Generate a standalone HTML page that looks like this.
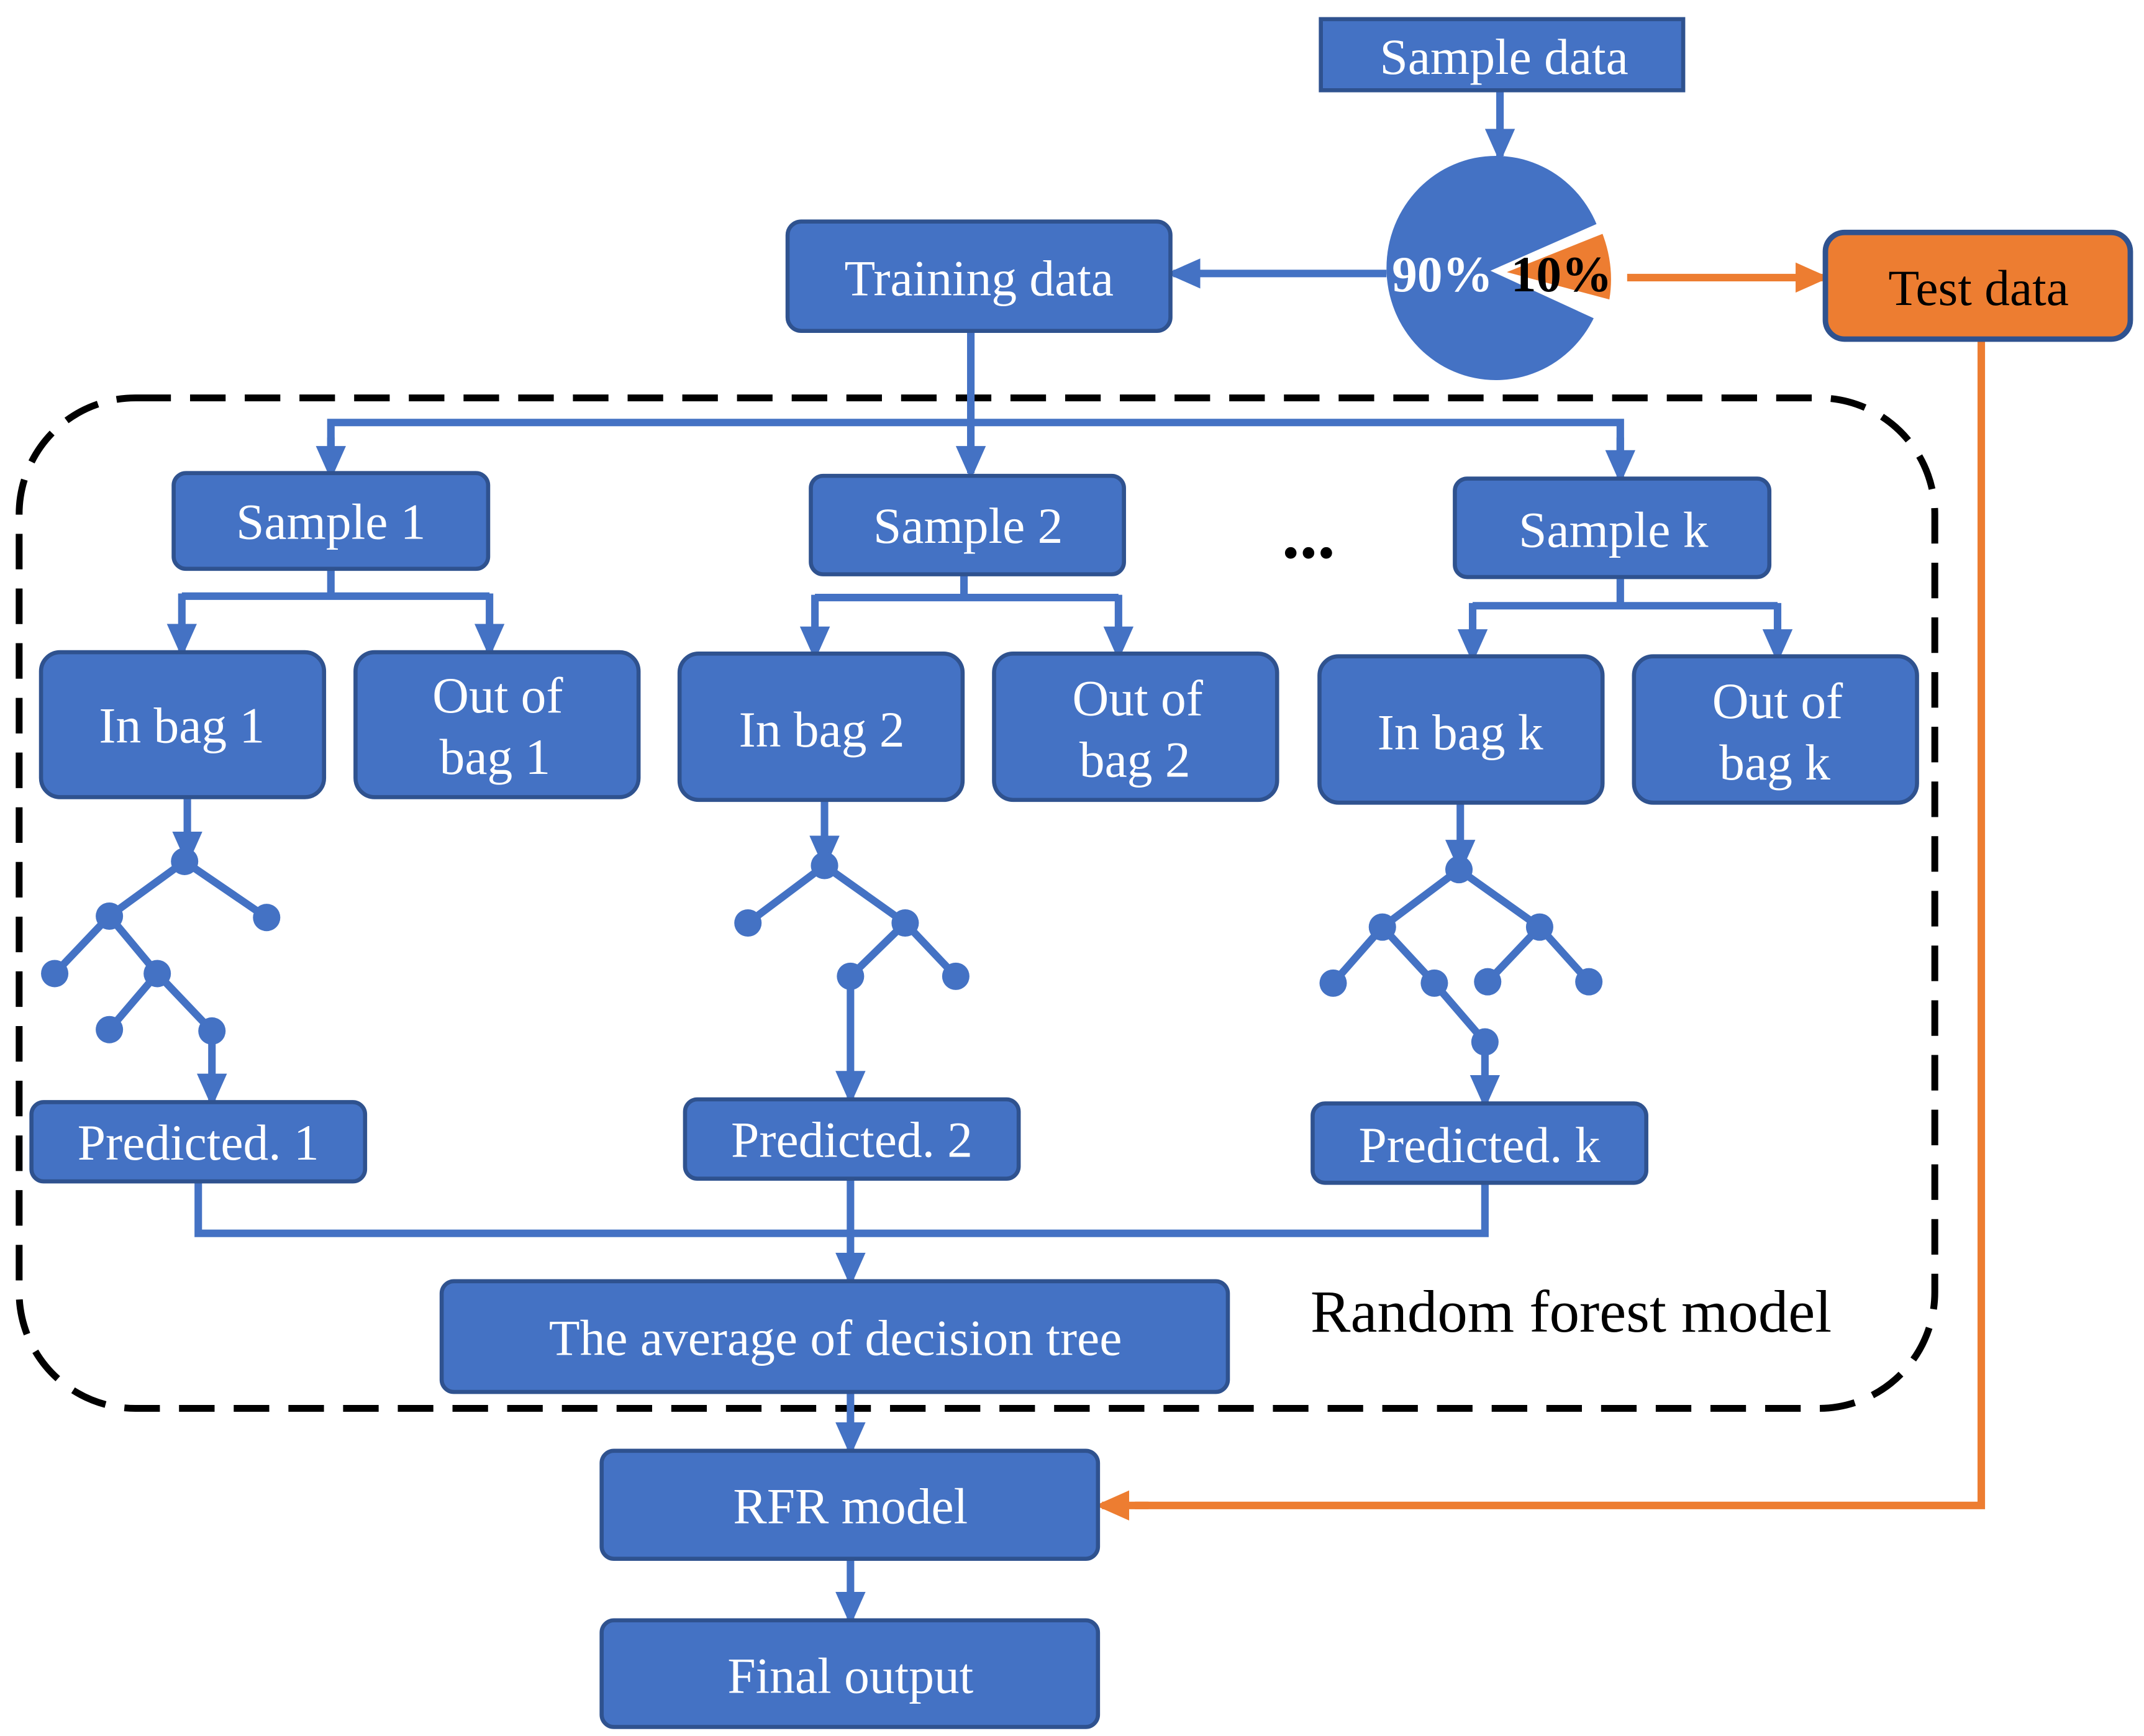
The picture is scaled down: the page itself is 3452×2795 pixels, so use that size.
<!DOCTYPE html>
<html><head><meta charset="utf-8"><style>
html,body{margin:0;padding:0;background:#fff;}
svg{display:block;}
text{font-family:"Liberation Serif",serif;}
</style></head><body>
<svg width="3452" height="2795" viewBox="0 0 1568 1269.6" preserveAspectRatio="none" xmlns="http://www.w3.org/2000/svg">
<defs>
<marker id="ab" markerWidth="4.5" markerHeight="4" refX="3.6" refY="2" orient="auto" markerUnits="strokeWidth"><path d="M0,0 L4.5,2 L0,4 Z" fill="#4472C4"/></marker>
<marker id="ao" markerWidth="4.5" markerHeight="4" refX="3.6" refY="2" orient="auto" markerUnits="strokeWidth"><path d="M0,0 L4.5,2 L0,4 Z" fill="#ED7D31"/></marker>
</defs>
<g fill="none" stroke="#000" stroke-width="5" stroke-dasharray="26,14">
<rect x="14" y="291" width="1401" height="739" rx="85" ry="85"/>
</g>
<g fill="none" stroke="#4472C4" stroke-width="5.5">
<line x1="1097" y1="66" x2="1097" y2="114" marker-end="url(#ab)"/>
<line x1="1014" y1="200" x2="858" y2="200" marker-end="url(#ab)"/>
<line x1="710" y1="242" x2="710" y2="346" marker-end="url(#ab)"/>
<polyline points="242,330 242,309 1185,309 1185,330" />
<line x1="242" y1="320" x2="242" y2="346" marker-end="url(#ab)"/>
<line x1="1185" y1="320" x2="1185" y2="349" marker-end="url(#ab)"/>
<polyline points="242,416 242,436"/><line x1="133" y1="436" x2="358" y2="436"/>
<line x1="133" y1="434" x2="133" y2="476" marker-end="url(#ab)"/><line x1="358" y1="434" x2="358" y2="476" marker-end="url(#ab)"/>
<polyline points="705,420 705,437"/><line x1="596" y1="437" x2="818" y2="437"/>
<line x1="596" y1="435" x2="596" y2="478" marker-end="url(#ab)"/><line x1="818" y1="435" x2="818" y2="478" marker-end="url(#ab)"/>
<polyline points="1185,422 1185,443"/><line x1="1077" y1="443" x2="1300" y2="443"/>
<line x1="1077" y1="441" x2="1077" y2="480" marker-end="url(#ab)"/><line x1="1300" y1="441" x2="1300" y2="480" marker-end="url(#ab)"/>
<line x1="137" y1="583" x2="137" y2="628" marker-end="url(#ab)"/>
<polyline points="40,712 80,670 135,630 195,671"/><polyline points="80,670 115,712 80,753"/><polyline points="115,712 155,754"/>
<line x1="155" y1="754" x2="155" y2="805" marker-end="url(#ab)"/>
<line x1="603" y1="585" x2="603" y2="631" marker-end="url(#ab)"/>
<polyline points="547,675 603,633 662,675 699,714"/><polyline points="662,675 622,714"/>
<line x1="622" y1="714" x2="622" y2="803" marker-end="url(#ab)"/>
<line x1="1068" y1="587" x2="1068" y2="634" marker-end="url(#ab)"/>
<polyline points="975,719 1011,678 1067,636 1126,678 1162,718"/><polyline points="1011,678 1049,719 1086,762"/><polyline points="1126,678 1088,718"/>
<line x1="1086" y1="762" x2="1086" y2="806" marker-end="url(#ab)"/>
<polyline points="145,864 145,902 1086,902 1086,865"/>
<line x1="622" y1="862" x2="622" y2="936" marker-end="url(#ab)"/>
<line x1="622" y1="1018" x2="622" y2="1060" marker-end="url(#ab)"/>
<line x1="622" y1="1140" x2="622" y2="1184" marker-end="url(#ab)"/>
</g>
<g fill="#4472C4">
<circle cx="135" cy="630" r="10"/><circle cx="80" cy="670" r="10"/><circle cx="195" cy="671" r="10"/><circle cx="40" cy="712" r="10"/><circle cx="115" cy="712" r="10"/><circle cx="80" cy="753" r="10"/><circle cx="155" cy="754" r="10"/>
<circle cx="603" cy="633" r="10"/><circle cx="547" cy="675" r="10"/><circle cx="662" cy="675" r="10"/><circle cx="622" cy="714" r="10"/><circle cx="699" cy="714" r="10"/>
<circle cx="1067" cy="636" r="10"/><circle cx="1011" cy="678" r="10"/><circle cx="1126" cy="678" r="10"/><circle cx="975" cy="719" r="10"/><circle cx="1049" cy="719" r="10"/><circle cx="1088" cy="718" r="10"/><circle cx="1162" cy="718" r="10"/><circle cx="1086" cy="762" r="10"/>
</g>
<g fill="none" stroke="#ED7D31" stroke-width="5.5">
<line x1="1185" y1="203" x2="1333" y2="203" marker-end="url(#ao)"/>
<polyline points="1449,249 1449,1101 830,1101"/>
<line x1="840" y1="1101" x2="806" y2="1101" marker-end="url(#ao)"/>
</g>
<ellipse cx="1094" cy="196" rx="80" ry="82" fill="#4472C4"/>
<path d="M1090,198 L1190,154 L1190,244 Z" fill="#fff"/>
<path d="M1102,199 L1172,171 Q1181,195 1177,219 Z" fill="#ED7D31"/>
<text x="1055" y="213" font-size="37" font-weight="bold" fill="#fff" text-anchor="middle">90%</text>
<text x="1142" y="213" font-size="37" font-weight="bold" fill="#000" text-anchor="middle">10%</text>
<g fill="#4472C4" stroke="#2F528F" stroke-width="3">
<rect x="966" y="14" width="265" height="52"/>
<rect x="576" y="162" width="280" height="80" rx="10"/>
<rect x="127" y="346" width="230" height="70" rx="9"/>
<rect x="593" y="348" width="229" height="72" rx="9"/>
<rect x="1064" y="350" width="230" height="72" rx="9"/>
<rect x="30" y="477" width="207" height="106" rx="14"/>
<rect x="260" y="477" width="207" height="106" rx="14"/>
<rect x="497" y="478" width="207" height="107" rx="14"/>
<rect x="727" y="478" width="207" height="107" rx="14"/>
<rect x="965" y="480" width="207" height="107" rx="14"/>
<rect x="1195" y="480" width="207" height="107" rx="14"/>
<rect x="23" y="806" width="244" height="58" rx="9"/>
<rect x="501" y="804" width="244" height="58" rx="9"/>
<rect x="960" y="807" width="244" height="58" rx="9"/>
<rect x="323" y="937" width="575" height="81" rx="9"/>
<rect x="440" y="1061" width="363" height="79" rx="9"/>
<rect x="440" y="1185" width="363" height="78" rx="9"/>
</g>
<rect x="1335" y="170" width="223" height="78" rx="14" fill="#ED7D31" stroke="#2F528F" stroke-width="4"/>
<g fill="#fff" font-size="37" text-anchor="middle">
<text x="1100" y="54">Sample data</text>
<text x="716" y="216">Training data</text>
<text x="242" y="394">Sample 1</text>
<text x="708" y="397">Sample 2</text>
<text x="1180" y="400">Sample k</text>
<text x="133" y="543">In bag 1</text>
<text x="364" y="521">Out of</text><text x="362" y="566">bag 1</text>
<text x="601" y="546">In bag 2</text>
<text x="832" y="523">Out of</text><text x="830" y="568">bag 2</text>
<text x="1068" y="548">In bag k</text>
<text x="1300" y="525">Out of</text><text x="1298" y="570">bag k</text>
<text x="145" y="848">Predicted. 1</text>
<text x="623" y="846">Predicted. 2</text>
<text x="1082" y="850">Predicted. k</text>
<text x="611" y="991">The average of decision tree</text>
<text x="622" y="1114">RFR model</text>
<text x="622" y="1238">Final output</text>
</g>
<text x="1447" y="223" font-size="37" fill="#000" text-anchor="middle">Test data</text>
<text x="957" y="408" font-size="52" font-weight="bold" fill="#000" text-anchor="middle">...</text>
<text x="1149" y="974" font-size="44" fill="#000" text-anchor="middle">Random forest model</text>
</svg>
</body></html>
